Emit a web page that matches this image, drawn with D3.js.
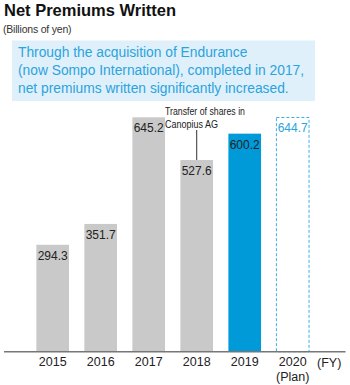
<!DOCTYPE html>
<html>
<head>
<meta charset="utf-8">
<script src="https://cdn.jsdelivr.net/npm/d3@7"></script>
<style>
  html, body { margin: 0; padding: 0; background: #fff; }
  svg { display: block; font-family: "Liberation Sans", Arial, sans-serif; }
</style>
</head>
<body>
<svg id="chart" width="350" height="385"></svg>
<script>
const years = ["2015", "2016", "2017", "2018", "2019", "2020"];
const values = [294.3, 351.7, 645.2, 527.6, 600.2, 644.7];
const labels = ["294.3", "351.7", "645.2", "527.6", "600.2", "644.7"];
const barTypes = ["actual", "actual", "actual", "actual", "current", "plan"];
const subLabels = ["", "", "", "", "", "(Plan)"];
const noteLines = ["Through the acquisition of Endurance", "(now Sompo International), completed in 2017,", "net premiums written significantly increased."];
const annotationLines = ["Transfer of shares in", "Canopius AG"];
const annotationYear = "2018";

const svg = d3.select("#chart");
const x = d3.scaleBand().domain(years).range([21, 324.4]).paddingInner(0.32).paddingOuter(0.32);
const y = d3.scaleLinear().domain([0, 700]).range([351.7, 351.7 - 254.3]);

// Title
svg.append("text").attr("x", 4).attr("y", 16).attr("font-size", 16.5).attr("font-weight", "bold").attr("fill", "#111").text("Net Premiums Written");
svg.append("text").attr("x", 3).attr("y", 33).attr("font-size", 10.5).attr("fill", "#333").attr("letter-spacing", -0.2).text("(Billions of yen)");

// Note box
svg.append("rect").attr("x", 12).attr("y", 40.5).attr("width", 303).attr("height", 60.5).attr("fill", "#dff0fb");
svg.append("g").selectAll("text").data(noteLines).join("text")
  .attr("x", 18).attr("y", (d, i) => 56.5 + i * 18.3)
  .attr("font-size", 13.8).attr("fill", "#2ba3dd").text(d => d);

// Bars
const bars = svg.append("g");
bars.selectAll("rect").data(years).join("rect")
  .attr("x", d => x(d)).attr("width", x.bandwidth())
  .attr("y", (d, i) => y(values[i]))
  .attr("height", (d, i) => y(0) - y(values[i]))
  .attr("fill", (d, i) => barTypes[i] === "actual" ? "#c9c9c9" : barTypes[i] === "current" ? "#009ad9" : "none")
  .attr("stroke", (d, i) => barTypes[i] === "plan" ? "#3aaee6" : "none")
  .attr("stroke-width", 1)
  .attr("stroke-dasharray", (d, i) => barTypes[i] === "plan" ? "3,2" : null);

// Value labels
svg.append("g").selectAll("text").data(years).join("text")
  .attr("x", d => x(d) + x.bandwidth() / 2)
  .attr("y", (d, i) => y(values[i]) + 15)
  .attr("text-anchor", "middle").attr("font-size", 12)
  .attr("fill", (d, i) => barTypes[i] === "plan" ? "#2ba3dd" : "#222")
  .text((d, i) => labels[i]);

// Annotation
const ax = x(annotationYear) + x.bandwidth() / 2;
const ai = years.indexOf(annotationYear);
svg.append("line").attr("x1", ax).attr("x2", ax).attr("y1", 130).attr("y2", y(values[ai]))
  .attr("stroke", "#333").attr("stroke-width", 1);
const annWidths = [80, 53];
svg.append("g").selectAll("text").data(annotationLines).join("text")
  .attr("x", 165).attr("y", (d, i) => 115 + i * 12.5)
  .attr("font-size", 10.5).attr("fill", "#222")
  .attr("textLength", (d, i) => annWidths[i]).attr("lengthAdjust", "spacingAndGlyphs")
  .text(d => d);

// Axis
const axis = d3.axisBottom(x).tickSize(0).tickPadding(0);
const ag = svg.append("g").attr("transform", `translate(0,${y(0)})`).call(axis);
ag.select(".domain").remove();
ag.selectAll(".tick text").attr("font-size", 12.5).attr("fill", "#222").attr("dy", "1.15em")
  .attr("font-family", "'Liberation Sans', Arial, sans-serif");
svg.append("line").attr("x1", 4).attr("x2", 345.5).attr("y1", y(0)).attr("y2", y(0))
  .attr("stroke", "#777").attr("stroke-width", 1.4);

svg.append("g").selectAll("text").data(years.filter((d, i) => subLabels[i])).join("text")
  .attr("x", d => x(d) + x.bandwidth() / 2).attr("y", 381)
  .attr("text-anchor", "middle").attr("font-size", 12.5).attr("fill", "#222")
  .text(d => subLabels[years.indexOf(d)]);
svg.append("text").attr("x", 317).attr("y", 366.5).attr("font-size", 12.5).attr("fill", "#222").text("(FY)");
</script>
</body>
</html>
